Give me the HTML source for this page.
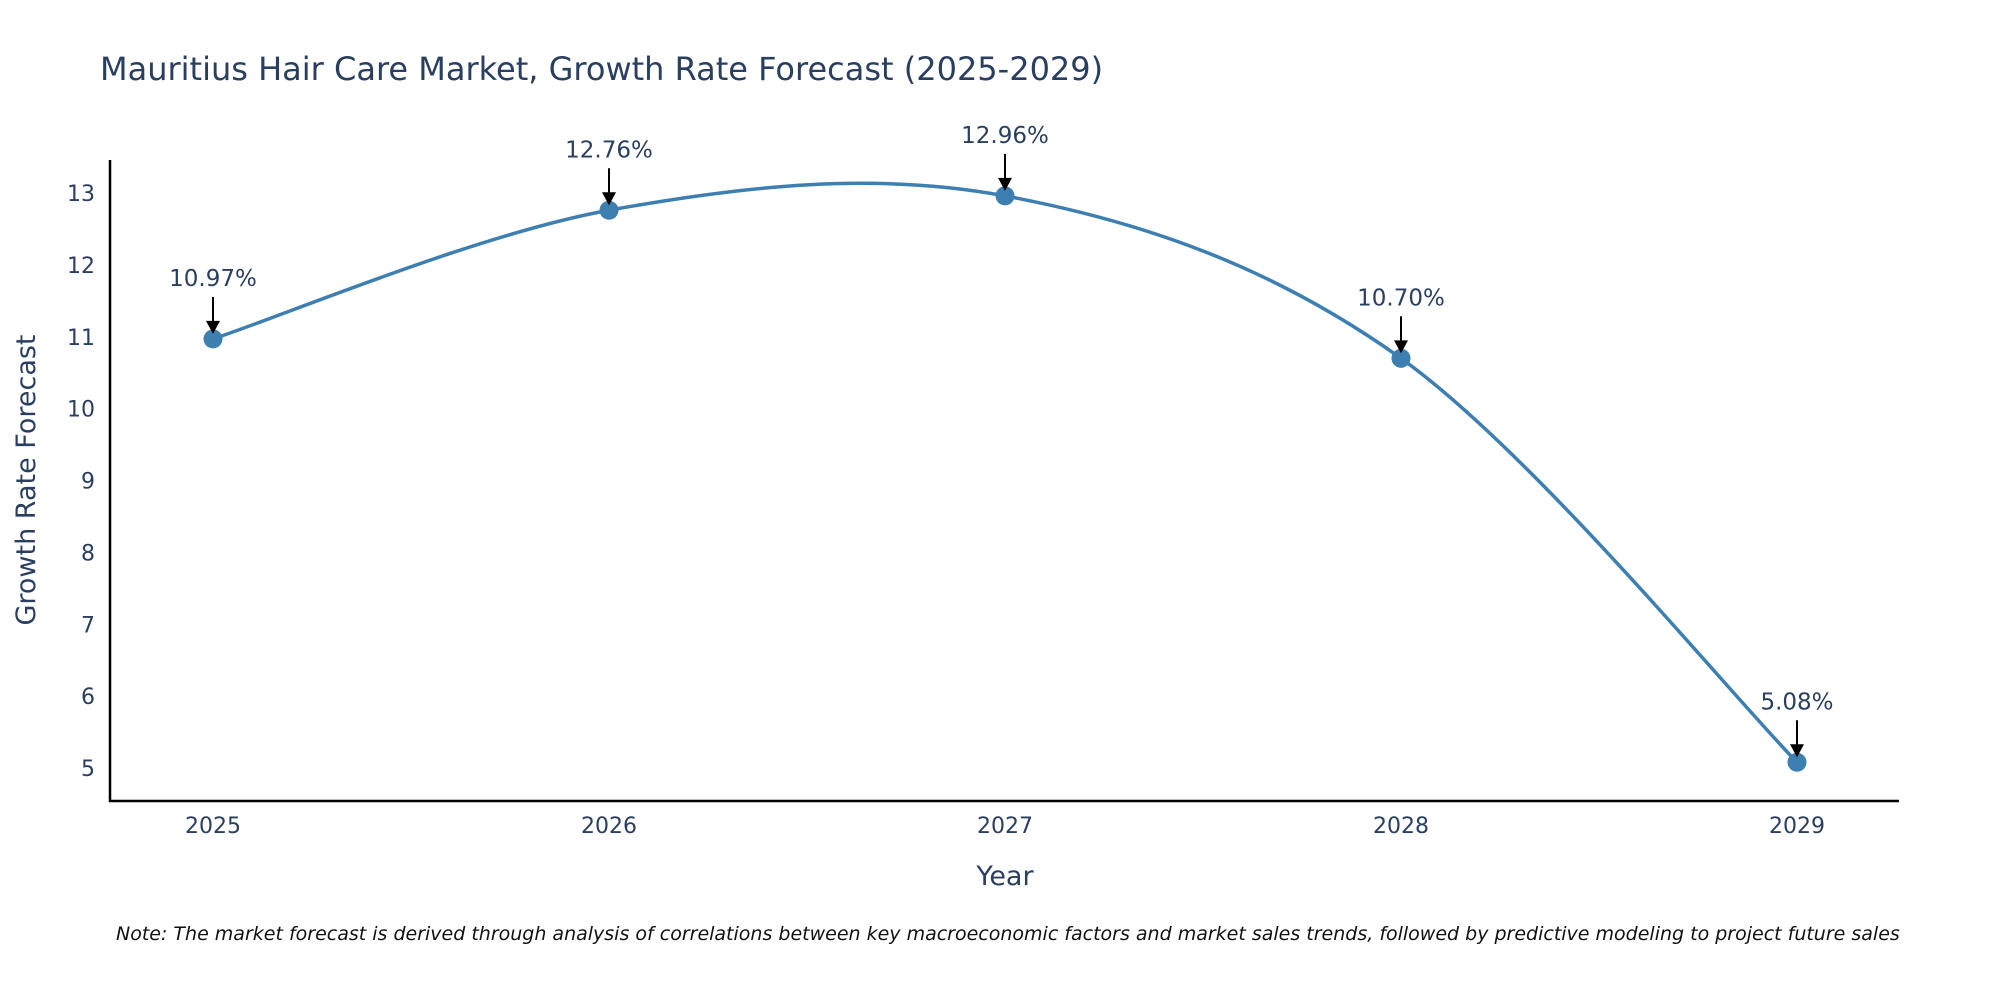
<!DOCTYPE html>
<html><head><meta charset="utf-8"><style>
body{margin:0;background:#fff;}
svg text{font-family:"DejaVu Sans","Liberation Sans",sans-serif;fill:#2a3f5f;}
</style></head><body>
<svg id="chart" width="2000" height="1000" viewBox="0 0 2000 1000" xmlns="http://www.w3.org/2000/svg">
<text x="100" y="80" font-size="32">Mauritius Hair Care Market, Growth Rate Forecast (2025-2029)</text>
<g id="yticks"></g>
<g id="xticks"></g>
<line x1="110" y1="160" x2="110" y2="802" stroke="#000" stroke-width="2.5"/>
<line x1="109" y1="801" x2="1899" y2="801" stroke="#000" stroke-width="2.5"/>
<text transform="translate(35,480) rotate(-90)" text-anchor="middle" font-size="27">Growth Rate Forecast</text>
<text x="1005" y="885" text-anchor="middle" font-size="27">Year</text>
<path id="line" fill="none" stroke="#3d7fb1" stroke-width="3.5"/>
<g id="points"></g>
<text x="116" y="940" font-size="19" font-style="italic" style="fill:#111">Note: The market forecast is derived through analysis of correlations between key macroeconomic factors and market sales trends, followed by predictive modeling to project future sales</text>
</svg>
<script>
const years = [2025, 2026, 2027, 2028, 2029];
const values = [10.97, 12.76, 12.96, 10.70, 5.08];
const labels = ["10.97%", "12.76%", "12.96%", "10.70%", "5.08%"];
const yTicks = [5, 6, 7, 8, 9, 10, 11, 12, 13];

const NS = "http://www.w3.org/2000/svg";
function xScale(v){ return 213 + (v - 2025) * (1797 - 213) / 4; }
function yScale(v){ return 768 - (v - 5) * (768 - 193) / 8; }
function mk(tag, attrs, parent){ const e = document.createElementNS(NS, tag); for (const k in attrs) e.setAttribute(k, attrs[k]); parent.appendChild(e); return e; }

const yg = document.getElementById('yticks');
yTicks.forEach(t => {
  const el = mk('text', {x: 95, y: yScale(t) + 8, 'text-anchor': 'end', 'font-size': 22}, yg);
  
  
  el.textContent = t;
});
const xg = document.getElementById('xticks');
years.forEach(t => {
  const el = mk('text', {x: xScale(t), y: 833, 'text-anchor': 'middle', 'font-size': 22}, xg);
  
  
  el.textContent = t;
});

const pts = years.map((y, i) => [xScale(y), yScale(values[i])]);
let d = `M${pts[0][0]},${pts[0][1]}`;
for (let i = 0; i < pts.length - 1; i++) {
  const p0 = pts[Math.max(0, i - 1)], p1 = pts[i], p2 = pts[i + 1], p3 = pts[Math.min(pts.length - 1, i + 2)];
  const c1 = [p1[0] + (p2[0] - p0[0]) / 6, p1[1] + (p2[1] - p0[1]) / 6];
  const c2 = [p2[0] - (p3[0] - p1[0]) / 6, p2[1] - (p3[1] - p1[1]) / 6];
  d += ` C${c1[0]},${c1[1]} ${c2[0]},${c2[1]} ${p2[0]},${p2[1]}`;
}
document.getElementById('line').setAttribute('d', d);

const pg = document.getElementById('points');
pts.forEach((p, i) => {
  const c = mk('circle', {cx: p[0], cy: p[1], r: 9.5, fill: '#3d7fb1'}, pg);
  
  
  const l = mk('line', {x1: p[0], y1: p[1] - 42, x2: p[0], y2: p[1] - 16, stroke: '#000', 'stroke-width': 2}, pg);
  
  
  const a = mk('polygon', {points: `${p[0]-7},${p[1]-18} ${p[0]+7},${p[1]-18} ${p[0]},${p[1]-5}`, fill: '#000'}, pg);
  
  
  const t = mk('text', {x: p[0], y: p[1] - 53, 'text-anchor': 'middle', 'font-size': 23}, pg);
  
  
  t.textContent = labels[i];
});
</script>
</body></html>
